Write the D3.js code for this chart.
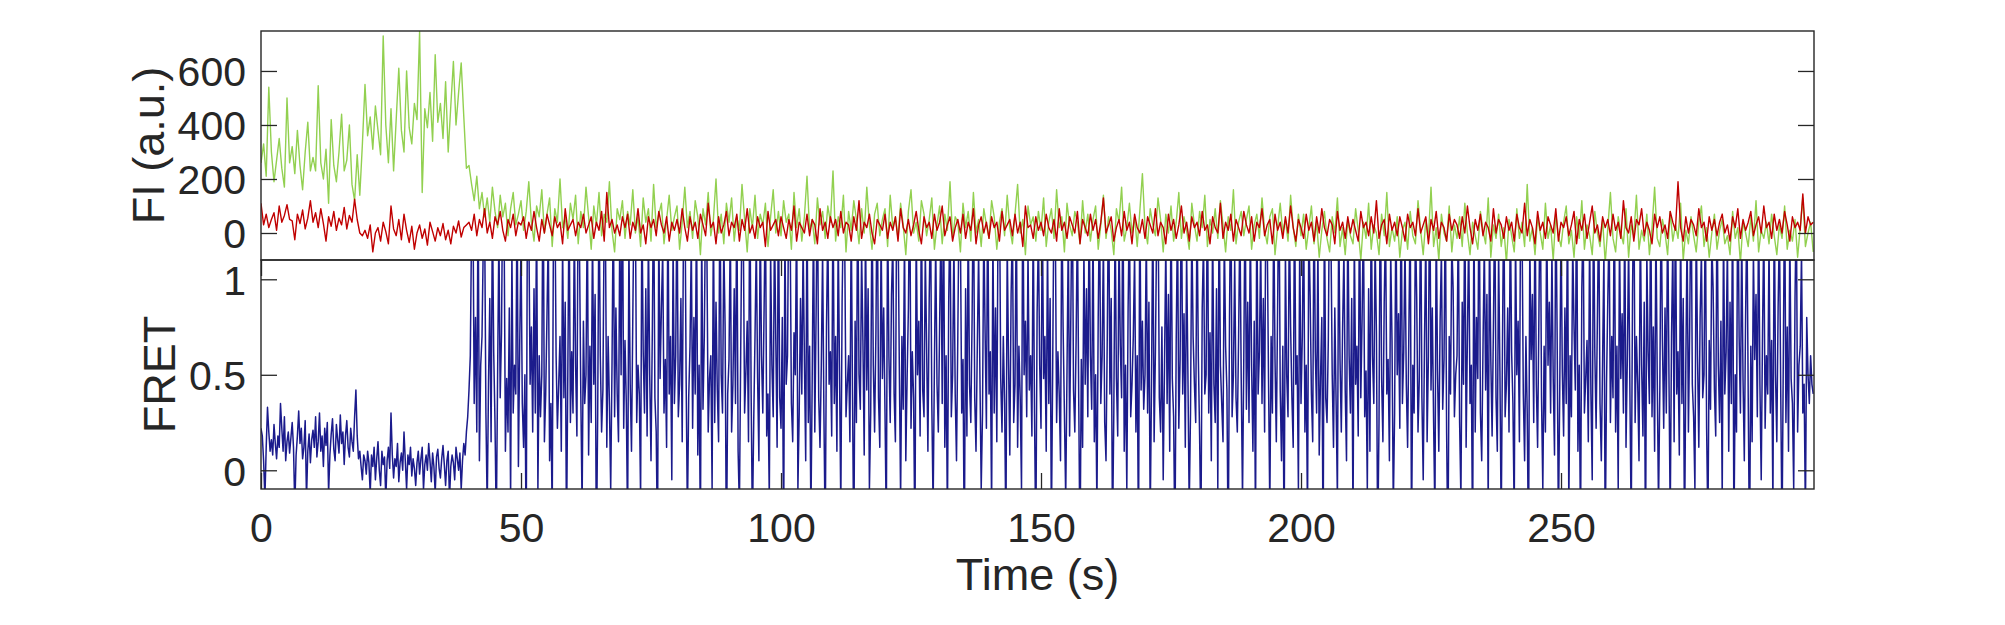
<!DOCTYPE html>
<html>
<head>
<meta charset="utf-8">
<script src="https://cdn.jsdelivr.net/npm/d3@7"></script>
<style>
  html, body { margin: 0; padding: 0; background: #ffffff; }
  svg { display: block; }
  text { font-family: "Liberation Sans", Arial, Helvetica, sans-serif; fill: #262626; }
</style>
</head>
<body>
<svg id="chart" width="2005" height="625"></svg>
<script>
// ---------------- data ----------------
const intensityFrameTime = 0.5;   // s between intensity samples
const fretFrameTime = 0.25;       // s between FRET samples
const xTickValues = [0, 50, 100, 150, 200, 250];
const fiTickValues = [0, 200, 400, 600];
const fretTickValues = [0, 0.5, 1];
const xLabel = "Time (s)";
const fiLabel = "FI (a.u.)";
const fretLabel = "FRET";

// donor intensity (green)
const donor = [
  260, 330, 210, 540, 300, 190, 270, 350, 240, 170, 500, 260, 320, 220, 380, 250, 160, 300, 410, 230,
  280, 230, 545, 260, 200, 310, 110, 420, 250, 190, 300, 440, 230, 270, 400, 180, 120, 290, 140, 330,
  550, 360, 430, 310, 470, 380, 290, 730, 400, 260, 460, 230, 420, 610, 380, 300, 600, 390, 330, 480,
  420, 746, 150, 460, 390, 520, 340, 660, 410, 480, 350, 560, 300, 470, 635, 400, 520, 630, 430, 240,
  250, 180, 120, 210, 90, 150, 60, 130, 40, 170, 80, 20, 140, 60, 110, -10, 90, 150, 30, 70,
  120, 10, 80, 190, 40, -30, 100, 60, 160, 0, 70, 130, -50, 90, 40, 200, 20, 60, -20, 110,
  50, 140, -40, 80, 20, 170, 60, -60, 100, 30, 150, -10, 70, 40, 190, 10, -70, 90, 50, 120,
  -20, 80, 30, 160, 0, 60, -50, 130, 40, 90, -30, 180, 20, 70, 110, -40, 50, 140, 10, 60,
  100, -60, 40, 170, 20, 80, -20, 120, 60, -80, 90, 30, 150, -10, 50, 200, 0, 70, -40, 110,
  40, 130, -30, 60, 10, 180, 50, -70, 90, 20, 140, -20, 70, 30, 110, -50, 60, 160, 0, 80,
  -10, 120, 40, 70, -60, 150, 20, 90, -30, 60, 210, 10, 50, -40, 130, 30, 80, -20, 100, 40,
  230, -30, 60, 20, 140, -70, 80, 10, 120, 50, -40, 90, 0, 170, 30, -60, 70, 110, -10, 50,
  90, -50, 140, 20, 60, -20, 110, 30, -80, 80, 160, 0, 40, -30, 120, 70, -10, 50, 130, -60,
  30, 100, -40, 70, 10, 190, -20, 60, 40, -70, 110, 20, 80, -30, 150, 0, 50, -50, 90, 30,
  -20, 120, 60, -60, 40, 90, -10, 140, 20, -40, 70, 180, 0, 50, -80, 100, 30, 60, -30, 80,
  10, 130, -50, 40, 90, -20, 160, 20, 60, -70, 110, 30, -10, 80, 40, -40, 120, 0, 70, -30,
  50, 100, -60, 30, 140, -20, 60, 10, -80, 90, 40, 170, -30, 20, 110, 0, 60, -50, 80, 220,
  20, -40, 90, 30, -10, 130, 50, -70, 70, 0, 100, -30, 40, 150, -20, 60, 10, -60, 110, 30,
  -30, 80, 20, 140, -50, 50, 0, 90, -20, 120, 30, -70, 60, 10, 160, -40, 40, 80, -10, 50,
  100, -60, 30, 70, -20, 130, 10, -40, 60, 90, -80, 20, 110, 0, 50, -30, 140, 20, -50, 70,
  -10, 70, -60, 20, 100, -40, 40, -90, 10, 80, -20, -70, 60, 0, 130, -50, 20, -80, 50, -10,
  -40, 90, 10, -100, 40, -20, 110, -60, 30, 0, -80, 70, -10, 150, -50, 20, -30, 60, -90, 10,
  40, -60, 80, -10, -40, 120, 10, -80, 50, -20, 170, -50, 20, -100, 70, 0, -30, 100, -70, 30,
  -20, 60, -50, 110, 0, -80, 40, -10, -60, 80, 10, -40, 130, -90, 30, -20, 70, -50, 20, -110,
  50, -10, -70, 90, -20, 40, -50, 180, -30, 20, -80, 60, 0, -60, 110, -20, 30, -100, 70, -10,
  -50, 40, 100, -40, 10, -90, 60, -20, 120, -60, 30, -10, -80, 80, 0, -50, 50, -110, 20, 150,
  -20, -70, 60, 0, -40, 90, -90, 30, -10, 140, -60, 10, -30, 70, -80, 20, 170, -20, -50, 50,
  0, -80, 80, -30, 30, -20, 110, -100, 10, -40, 60, -10, -70, 40, 100, -50, 20, -90, 0, 70,
  -60, 10, 50, -40, -10, -80, 80, -20, 20, -110, 40, 0, -50, 60, -30, 120, -70, 10, -20, 40,
  -40, 70, -10, -80, 30, -20, 100, -60, 10, -30, 50, -90, 20, 130, -50, 0, 40, -70
];

// acceptor intensity (red)
const acceptor = [
  110, 30, 70, 20, 50, 75, 10, 100, 40, 65, 105, 50, 45, -25, 70, 35, 85, 15, 55, 120,
  40, 75, 20, 90, 35, -30, 60, 25, 80, 10, 55, 30, 95, 15, 65, 40, 125, 50, 0, -10,
  10, -20, 30, -70, 0, 20, -30, 40, 5, -40, 100, 15, -10, 50, -25, 70, 10, -35, 25, -60,
  0, 30, -20, 15, -45, 40, 5, -30, 20, -10, 35, -25, 10, -40, 25, 0, 45, -15, 20, 30,
  40, 10, 70, -10, 50, 20, 90, 0, 40, -20, 60, 30, 80, 10, -30, 50, 20, 70, -10, 40,
  30, 60, -20, 40, 10, 80, 20, -30, 50, 0, 70, 30, -10, 60, 20, 40, -40, 90, 10, 30,
  50, -10, 40, 20, 70, 0, 30, 60, -20, 40, 10, 80, -30, 150, 20, 50, 0, 30, -10, 60,
  20, 70, -20, 40, 10, 90, 0, 30, -40, 60, 20, 50, -10, 80, 30, 0, 60, -30, 40, 10,
  50, 0, 90, 20, -30, 60, 10, 40, -20, 70, 30, -10, 110, 20, 40, -40, 60, 0, 30, 80,
  -10, 40, 20, 70, -30, 50, 10, 90, 0, 30, -20, 60, 20, 40, -50, 80, 10, 30, 50, -10,
  60, 20, -20, 50, 10, 100, -30, 40, 20, 0, 70, -10, 50, 30, -40, 90, 10, 40, -20, 60,
  20, 50, -10, 80, 0, 40, 30, -30, 60, 10, 120, -20, 40, 20, 70, 0, -40, 50, 30, 10,
  70, -20, 40, 10, 60, -30, 90, 20, 0, 50, -10, 30, 80, 10, -40, 60, 20, 40, -20, 70,
  10, 40, 100, -10, 30, 60, -30, 20, 50, 0, 70, -20, 40, 10, 90, -40, 30, 60, 0, 40,
  -20, 60, 20, 40, -30, 80, 10, 30, 50, -10, 70, 0, 40, -50, 100, 20, 30, -20, 60, 10,
  40, -10, 70, 20, 0, 50, -30, 90, 10, 40, -20, 60, 30, 0, 80, -40, 50, 20, -10, 70,
  10, 50, -20, 40, 130, 0, 30, 60, -30, 20, 50, -10, 80, 10, 40, -40, 70, 20, 0, 50,
  -20, 60, 30, 0, 90, -10, 40, 20, -40, 70, 10, 50, -20, 30, 100, 0, 40, -30, 60, 20,
  40, -10, 80, 10, 30, -40, 60, 20, 0, 110, -20, 40, 10, 70, -30, 50, 20, -10, 80, 30,
  0, 60, -30, 40, 20, 90, -10, 30, 50, -40, 70, 10, 40, -20, 60, 0, 100, 20, -30, 50,
  20, -20, 70, 10, 40, -30, 60, 0, 90, 20, -10, 50, 30, -40, 80, 10, 40, -20, 60, 0,
  50, 10, -30, 80, 20, 40, -10, 60, 0, 120, -20, 30, 50, -40, 70, 10, 40, -10, 60, 20,
  -30, 70, 20, 40, -10, 90, 0, 30, 60, -40, 50, 10, 80, -20, 40, 20, -30, 70, 10, 50,
  30, -20, 60, 0, 100, 20, -40, 50, 10, 70, -10, 40, 20, -30, 90, 0, 50, 30, -20, 60,
  10, 40, -30, 70, 20, 0, 110, -10, 50, 20, -40, 80, 10, 40, -20, 60, 30, 0, 90, -30,
  40, 20, 60, -10, 30, 80, -40, 50, 10, 70, -20, 40, 100, 0, 30, -30, 60, 20, 50, -10,
  70, 10, 40, -20, 120, 20, 0, 60, -30, 50, 30, 90, -10, 40, 10, -40, 70, 20, 60, 0,
  30, -20, 80, 40, 10, 190, 20, -30, 60, 0, 50, 30, -10, 90, 20, 40, -30, 60, 10, 50,
  -10, 40, 70, 0, 30, -30, 60, 20, 90, -20, 50, 10, 40, 80, -10, 30, 60, 0, 100, 20,
  40, -20, 70, 10, 50, 0, 80, 30, -30, 60, 20, 40, 10, 145, 0, 60, 30, 40
];

// FRET efficiency (blue), one row = 10 s
const fret = [
  0.22, 0.18, 0.05, -0.15, 0.12, 0.33, 0.20, 0.10, 0.16, 0.08, 0.24, 0.14, 0.06, 0.18, 0.12, 0.35, 0.22, 0.10, 0.28, 0.05, 0.15, 0.20, 0.09, 0.17, 0.25, 0.12, -0.2, 0.08, 0.18, 0.31, 0.14, 0.22, 0.06, 0.12, 0.26, -0.15, 0.10, 0.19, 0.04, 0.16,
  0.21, 0.12, 0.28, 0.07, 0.15, 0.30, 0.10, 0.18, 0.02, 0.22, 0.13, 0.25, -0.12, 0.08, 0.19, 0.27, 0.11, 0.05, 0.24, 0.16, 0.09, 0.29, 0.14, 0.20, 0.03, 0.18, 0.26, 0.12, 0.07, 0.22, 0.15, 0.10, 0.28, 0.42, 0.18, 0.06, 0.10, 0.02, -0.05, 0.08,
  0.05, -0.02, 0.10, 0.04, -0.12, 0.08, 0.02, 0.12, -0.05, 0.06, 0.15, 0.00, -0.08, 0.10, 0.03, 0.07, -0.15, 0.05, 0.12, 0.01, 0.30, 0.08, -0.04, 0.06, 0.02, 0.14, -0.06, 0.04, 0.09, 0.00, 0.20, 0.05, -0.10, 0.08, 0.03, 0.12, -0.03, 0.06, 0.01, -0.08,
  0.04, 0.10, -0.02, 0.06, 0.12, -0.10, 0.03, 0.08, 0.00, 0.14, 0.05, -0.06, 0.09, 0.02, -0.12, 0.07, 0.11, 0.01, -0.04, 0.06, 0.13, 0.03, -0.08, 0.05, 0.10, -0.15, 0.02, 0.08, 0.04, -0.05, 0.12, 0.06, 0.00, 0.09, -0.10, 0.05, 0.14, 0.08, 0.20, 0.28,
  0.42, 0.6, 1.3, 1.45, 0.35, 0.8, 0.2, 1.5, 0.05, 0.55, 0.7, 1.2, 1.35, 0.3, -0.2, 0.45, 0.9, 0.15, 1.4, 0.62, 0.25, -0.3, 0.5, 1.25, 0.38, 0.72, 1.6, 1.3, 0.1, 0.48, 0.2, 0.85, -0.15, 1.15, 0.3, 0.55, 0.4, 1.5, 0.02, 0.65,
  1.2, 0.35, 0.12, 0.5, -0.4, 1.55, 1.3, 0.45, 0.75, 0.2, 0.95, 0.3, 1.4, -0.1, 0.6, 0.28, 0.5, 1.7, 0.15, 0.4, 0.82, 1.25, 0.05, 0.35, -0.25, 1.35, 1.5, 0.6, 0.22, 0.45, 0.7, 0.1, 1.2, 0.38, 0.88, -0.35, 0.5, 1.45, 0.25, 0.62,
  0.3, 1.3, 0.55, 0.18, 1.6, 1.15, 0.4, -0.2, 0.78, 0.35, 0.5, 1.4, 0.08, 0.65, 0.25, 1.25, 0.45, 0.92, -0.45, 0.3, 1.5, 0.6, 0.2, 0.42, 1.35, 1.2, 0.12, 0.7, 0.35, -0.1, 0.55, 1.45, 0.28, 0.85, 0.4, 0.15, 1.3, 0.5, 1.6, 0.22,
  0.68, 0.35, -0.3, 1.2, 0.45, 0.1, 0.8, 1.5, 1.35, 0.25, 0.55, 0.4, -0.15, 1.4, 0.62, 0.3, 0.95, 0.18, 1.25, 0.5, 0.05, 0.72, 1.55, 0.38, 0.2, -0.4, 1.3, 0.48, 0.85, 1.15, 0.3, 0.58, 0.12, 1.45, 0.4, 0.7, -0.05, 1.2, 0.35, 0.6,
  1.5, 0.28, 0.45, 0.9, 0.15, 1.3, 1.6, 0.5, -0.25, 0.38, 0.65, 1.2, 0.22, 0.8, 0.4, 1.4, 0.08, 0.55, -0.35, 1.25, 0.32, 0.7, 1.45, 1.15, 0.2, 0.48, 0.6, -0.1, 1.35, 0.25, 0.88, 0.42, 0.15, 1.55, 0.5, 0.3, 1.2, 0.75, -0.45, 0.4,
  0.58, 1.3, 0.2, 0.45, 0.95, 0.35, 1.5, 0.1, -0.2, 0.62, 1.4, 1.25, 0.3, 0.52, 0.78, 0.15, 1.6, 0.42, -0.3, 0.25, 0.7, 1.2, 0.48, 0.05, 1.35, 0.6, 0.3, 0.85, 1.45, 0.18, 0.4, -0.15, 1.15, 0.55, 0.28, 1.3, 0.68, 0.12, 1.5, 0.38,
  0.22, 0.8, -0.4, 1.25, 0.45, 0.6, 1.55, 1.3, 0.35, 0.15, 0.72, 0.5, 1.4, -0.1, 0.3, 0.9, 0.4, 1.2, 0.58, 0.05, 1.45, 0.25, 0.65, -0.25, 0.48, 1.35, 0.2, 0.82, 1.6, 0.38, 0.12, 0.55, 1.15, 0.3, -0.35, 0.75, 1.3, 0.45, 0.62, 0.18,
  1.5, 0.35, 0.7, 0.1, 1.25, 0.52, -0.2, 0.88, 1.4, 1.2, 0.28, 0.45, 0.6, 0.15, 1.35, 0.4, -0.45, 0.78, 0.25, 1.55, 0.5, 0.32, 1.15, 0.68, 0.08, 1.3, 0.42, 0.95, -0.1, 0.3, 1.45, 0.55, 0.2, 0.72, 1.6, 0.38, 0.12, 1.25, 0.48, 0.85,
  0.3, -0.3, 1.4, 0.6, 0.25, 0.92, 1.2, 0.4, 0.15, 1.5, 1.35, 0.55, -0.15, 0.7, 0.32, 1.25, 0.05, 0.48, 0.85, 1.6, 0.22, 0.62, 0.38, -0.4, 1.3, 0.5, 0.78, 0.18, 1.45, 0.42, 0.28, 1.15, 0.65, 0.1, 0.9, 1.4, 0.35, -0.2, 0.55, 1.2,
  0.45, 0.2, 0.75, 1.3, 0.35, 1.55, 0.12, 0.6, -0.25, 0.88, 1.4, 0.28, 0.5, 1.2, 0.4, 0.05, 0.7, 1.45, 1.25, 0.3, 0.58, -0.45, 0.95, 0.18, 1.35, 0.45, 0.25, 0.8, 1.6, 0.38, 0.1, 0.65, 1.15, 0.5, -0.1, 0.3, 1.3, 0.72, 0.22, 1.5,
  0.4, 0.62, -0.2, 1.25, 0.3, 0.85, 0.15, 1.4, 1.55, 0.48, 0.2, 0.7, 0.35, -0.35, 1.2, 0.58, 0.08, 0.92, 1.3, 0.25, 0.45, 1.45, 0.12, 0.65, 0.38, -0.1, 1.6, 0.5, 0.78, 0.28, 1.15, 0.42, 0.6, 0.18, 1.35, 0.3, -0.4, 0.82, 1.25, 0.55,
  0.22, 1.4, 0.48, 0.7, 0.1, 1.2, 0.35, 0.9, -0.3, 0.55, 1.5, 1.3, 0.25, 0.62, 0.4, 0.05, 1.45, 0.75, 0.3, -0.15, 0.52, 1.25, 0.18, 0.85, 1.6, 0.42, 0.2, 0.68, 1.35, 0.38, -0.45, 0.58, 0.12, 1.15, 0.45, 0.95, 0.28, 1.4, 0.6, 0.32,
  1.3, 0.15, 0.5, -0.2, 0.8, 1.45, 0.35, 0.6, 1.2, 0.25, 0.05, 0.72, 1.55, 0.4, 0.9, -0.35, 0.3, 1.35, 0.48, 0.18, 1.25, 0.65, 0.38, 1.6, 0.1, 0.55, -0.1, 0.85, 1.4, 0.28, 0.45, 0.7, 1.15, 0.2, 0.6, -0.4, 1.5, 0.42, 0.78, 0.32,
  0.5, 1.25, 0.3, 0.88, -0.25, 0.45, 1.4, 0.15, 0.62, 1.3, 1.5, 0.38, 0.2, 0.75, -0.05, 0.55, 1.2, 0.35, 0.92, 0.1, 1.45, 0.48, 0.28, -0.4, 0.68, 1.35, 0.22, 0.58, 1.6, 0.4, 0.82, 0.12, 1.15, 0.5, -0.2, 0.3, 1.3, 0.7, 0.45, 0.25,
  1.4, 0.6, 0.18, -0.35, 0.85, 1.2, 0.4, 0.5, 1.55, 0.3, 0.72, 0.05, 1.3, 0.45, 0.25, 0.95, -0.1, 1.45, 0.55, 0.35, 0.15, 1.25, 0.65, 0.42, -0.45, 0.8, 1.6, 0.28, 0.5, 1.1, 0.38, 0.2, 0.7, 1.35, 0.48, -0.15, 0.6, 1.5, 0.32, 0.88,
  0.25, 1.3, 0.55, 0.1, 0.78, -0.3, 1.45, 0.4, 0.62, 1.2, 0.35, 0.9, 0.2, 1.55, 1.25, 0.48, -0.2, 0.7, 0.3, 1.4, 0.58, 0.15, 0.85, 1.6, 0.42, 0.05, 0.65, -0.4, 1.15, 0.5, 0.28, 1.35, 0.75, 0.38, 0.12, 1.5, 0.45, 0.6, -0.1, 1.2,
  0.35, 0.7, 1.4, 0.2, 0.55, -0.25, 1.3, 0.92, 0.4, 0.15, 1.5, 0.62, 0.3, 1.2, 0.08, 0.48, 0.8, -0.45, 1.45, 0.38, 0.25, 0.68, 1.6, 1.25, 0.5, 0.12, 0.85, 0.35, -0.15, 1.35, 0.58, 0.2, 0.75, 1.15, 0.42, 0.05, 1.4, 0.6, 0.3, 0.9,
  -0.3, 1.25, 0.45, 0.65, 0.18, 1.5, 0.38, 0.8, 1.35, 0.28, 0.52, -0.1, 0.95, 0.1, 1.45, 0.6, 0.35, 1.2, 0.72, -0.4, 0.25, 1.6, 0.48, 0.15, 0.88, 1.3, 0.4, 0.58, 0.05, 1.15, 0.68, -0.2, 0.3, 1.4, 0.5, 0.82, 0.22, 1.55, 0.35, 0.62,
  1.2, 0.45, 0.12, 0.75, 1.4, -0.35, 0.55, 0.3, 1.3, 0.9, 0.2, 0.48, 1.5, 0.38, -0.05, 0.68, 1.25, 0.15, 0.6, 1.6, 0.42, 0.85, 0.25, -0.25, 1.35, 0.52, 0.1, 0.78, 1.15, 0.32, 0.58, 1.45, 0.2, -0.45, 0.7, 0.4, 1.2, 0.95, 0.28, 0.5,
  0.6, 1.35, 0.25, -0.15, 0.88, 0.45, 1.5, 0.12, 0.7, 1.25, 0.35, 0.55, -0.4, 1.4, 0.2, 0.8, 0.48, 1.6, 0.3, 0.05, 0.65, 1.2, 0.42, 0.92, -0.2, 1.3, 0.58, 0.18, 0.75, 1.45, 0.38, 0.1, 1.15, 0.52, -0.3, 0.68, 1.55, 0.28, 0.45, 0.85,
  0.2, 1.4, 0.62, 0.35, -0.25, 1.25, 0.5, 0.78, 0.15, 1.55, 1.3, 0.4, 0.05, 0.7, 0.3, -0.45, 1.2, 0.58, 0.92, 0.25, 1.45, 0.45, 0.12, 0.82, 1.6, 0.38, -0.1, 0.65, 0.2, 1.35, 0.55, 0.88, 0.3, 1.15, 0.48, 0.08, 1.5, 0.72, -0.3, 0.4,
  1.3, 0.52, 0.18, 0.85, 0.35, 1.45, -0.2, 0.6, 0.28, 1.2, 0.75, 0.42, 1.6, 0.1, 0.55, -0.35, 0.95, 1.35, 0.3, 0.48, 0.68, 0.15, 1.25, 0.4, -0.05, 1.5, 0.62, 0.22, 0.8, 1.4, 0.35, 0.05, 0.58, 1.15, -0.4, 0.45, 0.9, 1.3, 0.25, 0.7,
  0.38, 1.55, 0.2, 0.65, -0.1, 1.25, 0.48, 0.82, 0.3, 1.4, 0.12, 0.58, 1.2, 0.4, -0.3, 0.92, 1.6, 0.25, 0.7, 0.45, 0.05, 1.35, 0.55, 0.18, 0.88, -0.45, 1.15, 0.62, 0.35, 1.5, 0.28, 0.75, 0.1, 1.3, 0.5, -0.2, 0.42, 1.45, 0.68, 0.22,
  0.85, 0.3, 1.4, 0.52, -0.25, 0.7, 1.2, 0.15, 1.5, 0.4, 0.62, 0.08, 1.3, 0.35, 0.9, -0.4, 0.55, 1.25, 0.2, 0.75, 1.6, 0.45, 0.28, -0.1, 1.35, 0.6, 0.12, 0.8, 1.15, 0.38, 0.5, 1.45, 0.22, -0.3, 0.68, 0.32, 1.2, 0.95, 0.42, 0.18,
  1.5, 0.55, 0.25, 0.78, -0.15, 1.3, 0.4, 0.62, 1.2, 0.1, 0.88, 0.35, 1.45, -0.35, 0.5, 0.2, 1.6, 0.7, 0.3, 1.25, 0.48, 0.05, 0.82, 1.35, 0.38, -0.45, 0.65, 0.15, 1.15, 0.58, 0.92, 0.28, 1.4, 0.45, -0.05, 0.72, 1.3, 0.22, 0.6, 0.4,
  1.2, 0.3, 0.68, -0.2, 1.45, 0.5, 0.15, 0.85, 1.3, 0.42, -0.35, 0.6, 1.55, 0.25, 0.75, 0.1, 1.25, 0.48, 0.35, -0.1, 0.9, 1.4, 0.2, 0.55, 0.65, 1.15, 0.3, 0.45, -0.25, 0.8, 0.5, 0.35, 0.6, 0.45, 0.4
];

// ---------------- layout ----------------
const svg = d3.select("#chart");
const W = 2005, H = 625;
svg.append("rect").attr("width", W).attr("height", H).attr("fill", "#ffffff");

const left = 261, right = 1814;
const topPanel = { y0: 31, y1: 260 };
const botPanel = { y0: 260, y1: 489 };
const tickLen = 16;
const axisColor = "#262626";
const tickFont = 41;
const labelFont = 45;

const x = d3.scaleLinear().domain([0, 298.65]).range([left, right]);
const yFI = d3.scaleLinear().domain([-100, 748]).range([topPanel.y1, topPanel.y0]);
const yFR = d3.scaleLinear().domain([-0.098, 1.101]).range([botPanel.y1, botPanel.y0]);

const defs = svg.append("defs");
defs.append("clipPath").attr("id", "clipTop").append("rect")
  .attr("x", left).attr("y", topPanel.y0).attr("width", right - left).attr("height", topPanel.y1 - topPanel.y0);
defs.append("clipPath").attr("id", "clipBot").append("rect")
  .attr("x", left).attr("y", botPanel.y0).attr("width", right - left).attr("height", botPanel.y1 - botPanel.y0);

function lineFor(yScale, dt) {
  return d3.line().x((d, i) => x(i * dt)).y(d => yScale(d));
}

// ---------------- traces ----------------
const gTop = svg.append("g").attr("clip-path", "url(#clipTop)");
gTop.append("path").datum(donor)
  .attr("d", lineFor(yFI, intensityFrameTime)).attr("fill", "none")
  .attr("stroke", "#92D050").attr("stroke-width", 1.4).attr("stroke-linejoin", "round");
gTop.append("path").datum(acceptor)
  .attr("d", lineFor(yFI, intensityFrameTime)).attr("fill", "none")
  .attr("stroke", "#C00000").attr("stroke-width", 1.4).attr("stroke-linejoin", "round");

const gBot = svg.append("g").attr("clip-path", "url(#clipBot)");
gBot.append("path").datum(fret)
  .attr("d", lineFor(yFR, fretFrameTime)).attr("fill", "none")
  .attr("stroke", "#1b1b8c").attr("stroke-width", 1.5).attr("stroke-linejoin", "round");

// ---------------- axes ----------------
function yAxes(yScale, ticks, fmt) {
  const gl = svg.append("g").attr("transform", `translate(${left},0)`)
    .call(d3.axisLeft(yScale).tickValues(ticks).tickSize(-tickLen).tickFormat(fmt));
  gl.select(".domain").remove();
  gl.selectAll(".tick line").attr("stroke", axisColor).attr("stroke-width", 1.3);
  gl.selectAll(".tick text")
    .attr("x", -(tickLen - 1)).attr("dy", "0.36em")
    .style("font-size", tickFont + "px").style("fill", axisColor);
  const gr = svg.append("g").attr("transform", `translate(${right},0)`)
    .call(d3.axisRight(yScale).tickValues(ticks).tickSize(-tickLen).tickFormat(""));
  gr.select(".domain").remove();
  gr.selectAll(".tick line").attr("stroke", axisColor).attr("stroke-width", 1.3);
}
yAxes(yFI, fiTickValues, d3.format("d"));
yAxes(yFR, fretTickValues, d => String(d));

const gx = svg.append("g").attr("transform", `translate(0,${botPanel.y1})`)
  .call(d3.axisBottom(x).tickValues(xTickValues).tickSize(-tickLen).tickFormat(d3.format("d")));
gx.select(".domain").remove();
gx.selectAll(".tick line").attr("stroke", axisColor).attr("stroke-width", 1.3);
gx.selectAll(".tick text")
  .attr("y", 53).attr("dy", "0")
  .style("font-size", tickFont + "px").style("fill", axisColor);
const gx2 = svg.append("g").attr("transform", `translate(0,${botPanel.y0})`)
  .call(d3.axisTop(x).tickValues(xTickValues).tickSize(-tickLen).tickFormat(""));
gx2.select(".domain").remove();
gx2.selectAll(".tick line").attr("stroke", axisColor).attr("stroke-width", 1.3);

[topPanel, botPanel].forEach(p => {
  svg.append("rect")
    .attr("x", left).attr("y", p.y0)
    .attr("width", right - left).attr("height", p.y1 - p.y0)
    .attr("fill", "none").attr("stroke", axisColor).attr("stroke-width", 1.4);
});

// ---------------- labels ----------------
svg.append("text")
  .attr("x", (left + right) / 2).attr("y", 590)
  .attr("text-anchor", "middle")
  .style("font-size", labelFont + "px")
  .text(xLabel);

svg.append("text")
  .attr("transform", `translate(164,${(topPanel.y0 + topPanel.y1) / 2}) rotate(-90)`)
  .attr("text-anchor", "middle")
  .style("font-size", labelFont + "px")
  .text(fiLabel);

svg.append("text")
  .attr("transform", `translate(175,${(botPanel.y0 + botPanel.y1) / 2}) rotate(-90)`)
  .attr("text-anchor", "middle")
  .style("font-size", labelFont + "px")
  .text(fretLabel);
</script>
</body>
</html>
